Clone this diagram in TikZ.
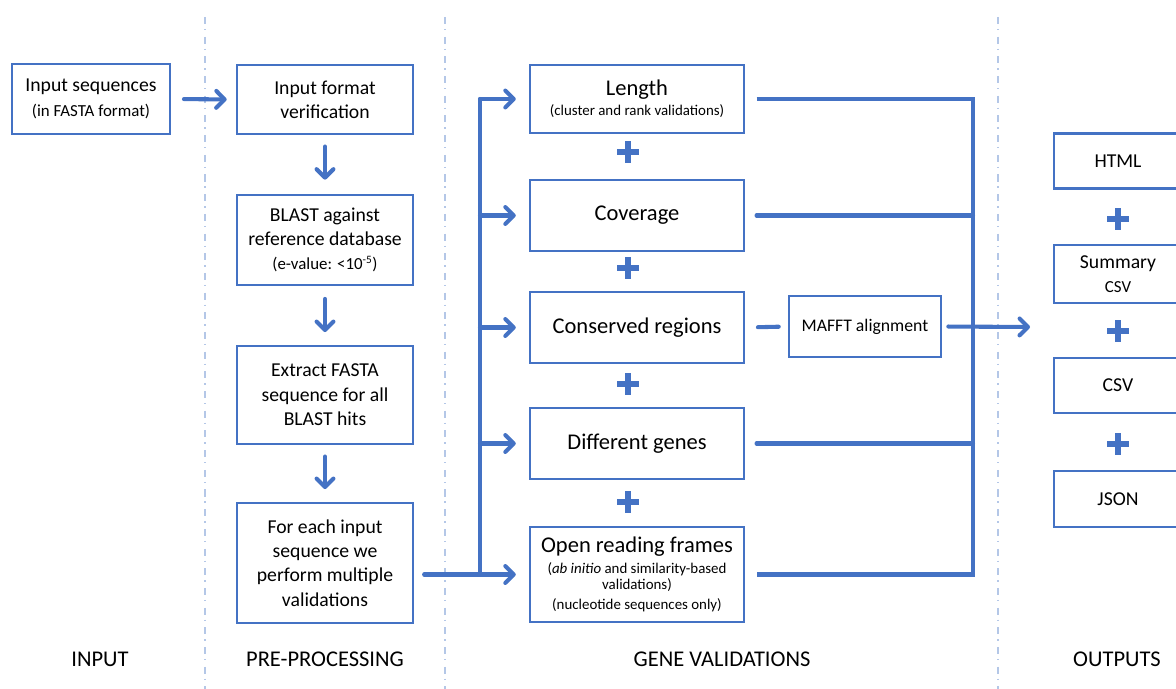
\documentclass[tikz,border=0pt]{standalone}
\usepackage{fontspec}
\setmainfont{Carlito}
\usetikzlibrary{arrows.meta,positioning}
\definecolor{flowblue}{HTML}{4472C4}
\definecolor{sepblue}{HTML}{B4C7E7}
\newcommand\bigsize{\fontsize{16}{19}\selectfont}
\newcommand\subsize{\fontsize{12}{14.5}\selectfont}
\newcommand\smallsize{\fontsize{10.6}{12.2}\selectfont}

\begin{document}
\begin{tikzpicture}[x=0.025cm,y=-0.025cm,
  box/.style={draw=flowblue,line width=1.8pt,align=center,inner sep=0pt,
    font=\fontsize{14}{17.3}\selectfont},
  valbox/.style={box,minimum width=5.35cm,font=\bigsize},
  conn/.style={draw=flowblue,line width=2.9pt,line cap=round},
  arr/.style={conn,-{Straight Barb[round,length=6pt,width=12pt]}},
  plussign/.style={inner sep=0pt,minimum size=15.6pt,path picture={
    \draw[flowblue,line width=3.6pt]
      (path picture bounding box.north) -- (path picture bounding box.south)
      (path picture bounding box.west) -- (path picture bounding box.east);}},
  seperator/.style={draw=sepblue,line width=1.4pt,
    dash pattern=on 5pt off 3.5pt on 1pt off 4.5pt},
  colname/.style={font=\bigsize}
]
\useasboundingbox (0,0) rectangle (1176,689);
\clip (0,0) rectangle (1176,689);

\draw[seperator] (205,17) -- (205,689);
\draw[seperator] (445,17) -- (445,689);
\draw[seperator] (998,17) -- (998,689);

\node[box,minimum width=3.95cm,minimum height=1.75cm] (inp) at (91,99)
  {Input sequences\\\subsize (in FASTA format)};

\node[box,minimum width=4.4cm,minimum height=1.725cm] (fmt) at (325,99.5)
  {Input format\\verification};
\node[box,minimum width=4.4cm,minimum height=2.25cm] (blast) at (325,240)
  {BLAST against\\reference database\\\subsize (e-value: <10\textsuperscript{-5})};
\node[box,minimum width=4.4cm,minimum height=2.45cm] (extract) at (325,395)
  {Extract FASTA\\sequence for all\\BLAST hits};
\node[box,minimum width=4.4cm,minimum height=3cm] (each) at (325,563)
  {For each input\\sequence we\\perform multiple\\validations};

\node[valbox,minimum height=1.7cm] (len) at (637,99)
  {Length\\[-5pt]\smallsize (cluster and rank validations)};
\node[valbox,minimum height=1.775cm] (cov) at (637,215.5) {Coverage};
\node[valbox,minimum height=1.775cm] (cons) at (637,327.5) {Conserved regions};
\node[valbox,minimum height=1.775cm] (diff) at (637,443.5) {Different genes};
\node[valbox,minimum height=2.375cm] (orf) at (637,574.5)
  {Open reading frames\\[-4pt]\smallsize (\textit{ab initio} and similarity-based\\[-7.5pt]
  \smallsize validations)\\[-5pt]\smallsize (nucleotide sequences only)};
\node[box,minimum width=3.8cm,minimum height=1.525cm,font=\fontsize{12.6}{15}\selectfont]
  (mafft) at (865,326.5) {MAFFT alignment};

\node[box,minimum width=3.2cm,minimum height=1.375cm] (html) at (1118,161) {HTML};
\node[box,minimum width=3.2cm,minimum height=1.45cm] (summ) at (1118,274)
  {Summary\\\subsize CSV};
\node[box,minimum width=3.2cm,minimum height=1.375cm] (csv) at (1118,385.5) {CSV};
\node[box,minimum width=3.2cm,minimum height=1.4cm] (json) at (1118,499) {JSON};

\node[plussign] (p1) at (628,152) {};
\node[plussign] (p2) at (628,268) {};
\node[plussign] (p3) at (628,384) {};
\node[plussign] (p4) at (628,502) {};
\node[plussign] (p5) at (1118,219) {};
\node[plussign] (p6) at (1118,331) {};
\node[plussign] (p7) at (1118,444) {};

\coordinate (lbus) at (480,0);
\coordinate (rbus) at (973,0);
\coordinate (outin) at (1030,327);

\draw[arr,shorten <=9pt,shorten >=6.4pt] (inp.east) -- (fmt.west);
\draw[arr,shorten <=8pt,shorten >=10pt] (fmt.south) -- (blast.north);
\draw[arr,shorten <=9pt,shorten >=9pt] (blast.south) -- (extract.north);
\draw[arr,shorten <=8pt,shorten >=9pt] (extract.south) -- (each.north);

\draw[conn,shorten <=7pt] (each.east |- orf.west) -- (orf.west -| lbus);
\draw[conn] (len.west -| lbus) -- (orf.west -| lbus);
\foreach \v in {len,cov,cons,diff,orf}
  \draw[arr,shorten >=9.2pt] (\v.west -| lbus) -- (\v.west);

\draw[conn,line cap=butt,shorten <=8pt,shorten >=8pt] (len.east) -- (len.east -| rbus)
  -- (orf.east -| rbus) -- (orf.east);
\draw[conn,shorten <=8pt] (cov.east) -- (cov.east -| rbus);
\draw[conn,shorten <=8pt] (diff.east) -- (diff.east -| rbus);
\draw[conn,shorten <=9pt,shorten >=6.4pt] (cons.east) -- (mafft.west);
\draw[arr,shorten <=4.3pt] (mafft.east) -- (outin);

\node[colname] (lblinput) at (100,659) {INPUT};
\node[colname] (lblpre) at (325,659) {PRE-PROCESSING};
\node[colname] (lblgene) at (722,659) {GENE VALIDATIONS};
\node[colname] (lblout) at (1117,659) {OUTPUTS};
\end{tikzpicture}
\end{document}
